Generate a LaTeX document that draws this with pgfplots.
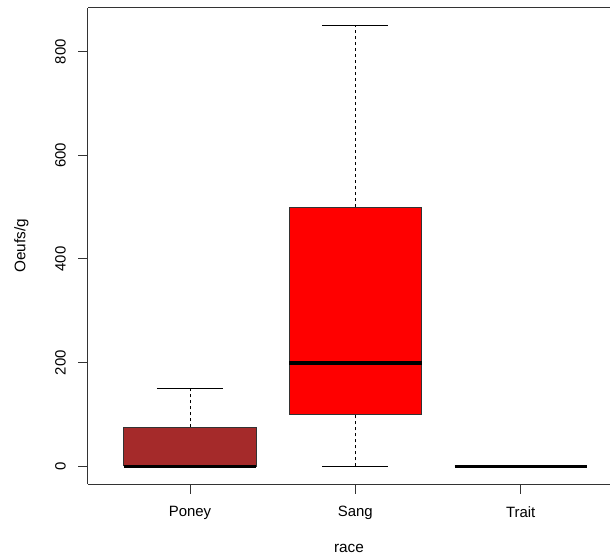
\documentclass[border=0pt]{standalone}
\usepackage{pgfplots}
\pgfplotsset{compat=1.18}
\usepackage{fontspec}
\setmainfont{Liberation Sans}
\definecolor{brownR}{HTML}{A52A2A}
\definecolor{redR}{HTML}{FF0000}
\definecolor{axgray}{HTML}{333333}
\begin{document}
\begin{tikzpicture}
\begin{axis}[
  name=ax,
  scale only axis,
  width=391.5pt, height=357pt,
  xmin=0.383, xmax=3.54, ymin=-34, ymax=884,
  axis x line=box, axis y line=left,
  axis line style={-, axgray, line width=0.75pt},
  tick style={axgray, line width=0.75pt},
  tick align=outside,
  xtick pos=bottom, ytick pos=left,
  major tick length=7.2pt,
  xtick={1,2,3},
  xticklabels={Poney,Sang,Trait},
  ytick={0,200,400,600,800},
  /pgf/number format/assume math mode=true,
  /pgf/number format/1000 sep={},
  ticklabel style={font=\fontsize{11.2}{13}\selectfont},
  yticklabel style={rotate=90, anchor=south, yshift=6pt},
  xticklabel style={yshift=-6pt},
  xlabel={race},
  ylabel={Oeufs/g},
  label style={font=\fontsize{11.5}{13}\selectfont},
  xlabel style={yshift=-11.5pt},
  ylabel style={yshift=13pt},
]
% whiskers (dashed)
\addplot[black, line width=0.75pt, dash pattern=on 2.25pt off 2.25pt, forget plot] coordinates {(1,75) (1,150)};
\addplot[black, line width=0.75pt, dash pattern=on 2.25pt off 2.25pt, forget plot] coordinates {(2,500) (2,850)};
\addplot[black, line width=0.75pt, dash pattern=on 2.25pt off 2.25pt, forget plot] coordinates {(2,0) (2,100)};
% whisker caps
\addplot[black, line width=0.75pt, forget plot] coordinates {(0.8,150) (1.2,150)};
\addplot[black, line width=0.75pt, forget plot] coordinates {(1.8,850) (2.2,850)};
\addplot[black, line width=0.75pt, forget plot] coordinates {(1.8,0) (2.2,0)};
\addplot[black, line width=0.75pt, forget plot] coordinates {(0.8,0) (1.2,0)};
% boxes (lower quartile to upper quartile)
\addplot[fill=brownR, draw=black!80, line width=0.75pt] coordinates {(0.6,0) (1.4,0) (1.4,75) (0.6,75) (0.6,0)};
\addplot[fill=redR, draw=black!80, line width=0.75pt] coordinates {(1.6,100) (2.4,100) (2.4,500) (1.6,500) (1.6,100)};
\addplot[draw=black!80, line width=0.75pt] coordinates {(2.6,0) (3.4,0)};
% medians
\addplot[black, line width=2.8pt, forget plot] coordinates {(0.6,0) (1.4,0)};
\addplot[black, line width=2.8pt, forget plot] coordinates {(1.6,200) (2.4,200)};
\addplot[black, line width=2.8pt, forget plot] coordinates {(2.6,0) (3.4,0)};
\end{axis}
\pgfresetboundingbox
\path[use as bounding box] ([xshift=-66pt,yshift=-54.75pt]ax.south west) rectangle ([yshift=6pt]ax.north east);
\end{tikzpicture}
\end{document}
